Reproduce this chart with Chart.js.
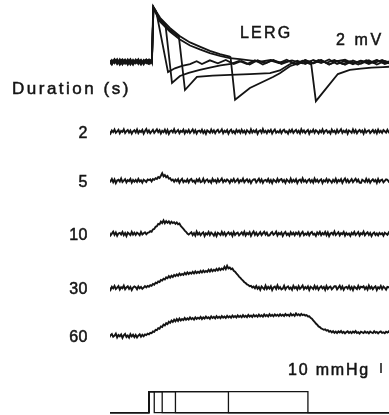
<!DOCTYPE html>
<html>
<head>
<meta charset="utf-8">
<script src="https://cdn.jsdelivr.net/npm/chart.js@4.4.1/dist/chart.umd.min.js"></script>
<style>
  html, body { margin: 0; padding: 0; background: #fff; overflow: hidden; }
  #wrap { position: relative; width: 389px; height: 415px; }
</style>
</head>
<body>
<div id="wrap"><canvas id="chart"></canvas></div>
<script>
// ---------------------------------------------------------------
//  DATA (time in s from stimulus onset)
// ---------------------------------------------------------------

const durations = [2, 5, 10, 30, 60];
const durationLabels = ['2', '5', '10', '30', '60'];

// pressure traces are sampled every 0.5 s from -15 s to 91 s
const sampleTimes = [];
for (let t = -15; t <= 91; t += 0.5) sampleTimes.push(t);

// pressure (mmHg above baseline), one value per sample time
const pressure2s = [
  0.5,-1.8,1.2,-0.4,2.1,-1.1,0.3,1.9,-1.6,0.8,-0.2,2.4,-1.3,0.6,1.7,-0.9,1.1,-2.0,0.4,1.5,
  -0.7,2.2,-1.4,0.9,-0.3,1.8,-1.9,0.7,2.6,-0.8,1.3,-1.5,0.2,1.9,-1.1,0.6,2.3,-0.5,1.4,-1.7,
  0.9,-0.4,2.0,-1.2,1.6,-2.1,0.5,1.2,-0.6,2.5,-1.0,0.3,1.8,-1.4,0.8,-0.1,2.1,-1.6,1.0,-0.7,
  1.7,-1.3,0.4,2.3,-0.9,1.5,-1.8,0.6,1.1,-0.5,2.0,-1.2,0.9,-2.0,1.4,0.2,-1.1,2.2,-0.6,1.3,
  -1.5,0.8,1.9,-0.8,0.3,2.4,-1.4,1.0,-0.3,1.6,-1.9,0.7,2.1,-1.0,0.5,-1.6,1.8,-0.4,1.2,-1.2,
  2.0,-0.7,0.9,-1.8,1.5,0.1,-1.3,2.3,-0.9,1.1,-0.5,1.7,-2.1,0.6,1.4,-1.0,2.6,-0.6,0.8,-1.5,
  1.3,-0.2,1.9,-1.7,0.7,2.2,-1.1,0.4,-0.8,1.6,-1.4,1.0,2.0,-0.6,0.3,-1.9,1.5,-0.3,2.1,-1.2,
  0.6,1.8,-1.0,0.9,-1.6,2.4,-0.5,1.2,-1.3,0.5,1.7,-2.0,0.8,-0.4,2.0,-1.1,1.4,0.2,-1.7,1.1,
  -0.6,2.3,-1.4,0.7,1.6,-0.9,0.4,-1.8,2.1,-0.3,1.0,-1.5,1.9,-0.8,0.6,2.5,-1.2,0.9,-0.5,1.6,
  -2.0,1.2,0.3,-1.1,2.2,-0.7,1.5,-1.6,0.5,1.8,-0.4,1.1,-1.9,2.0,-0.9,0.7,1.4,-1.3,0.2,1.7,
  -0.8,1.3,-1.5,2.1,-0.6,0.9,-1.2,1.6,0.4,-1.0,1.8,-0.5,1.1
];
const pressure5s = [
  0.9,-0.4,2.0,-1.2,1.6,-2.1,0.5,1.2,-0.6,2.5,-1.0,0.3,1.8,-1.4,0.8,-0.1,2.1,-1.6,1.0,-0.7,
  1.1,-0.9,2.0,-0.5,0.7,-1.6,1.3,0.2,-1.0,1.5,
  0.8,1.6,-0.4,1.9,1.2,2.8,2.0,3.9,3.1,5.2,7.8,4.6,6.0,3.8,4.9,2.4,2.9,0.6,1.4,-0.8,
  1.3,-0.2,1.9,-1.7,0.7,2.2,-1.1,0.4,-0.8,1.6,-1.4,1.0,2.0,-0.6,0.3,-1.9,1.5,-0.3,2.1,-1.2,
  -0.6,2.3,-1.4,0.7,1.6,-0.9,0.4,-1.8,2.1,-0.3,1.0,-1.5,1.9,-0.8,0.6,2.5,-1.2,0.9,-0.5,1.6,
  0.5,-1.8,1.2,-0.4,2.1,-1.1,0.3,1.9,-1.6,0.8,-0.2,2.4,-1.3,0.6,1.7,-0.9,1.1,-2.0,0.4,1.5,
  1.7,-1.3,0.4,2.3,-0.9,1.5,-1.8,0.6,1.1,-0.5,2.0,-1.2,0.9,-2.0,1.4,0.2,-1.1,2.2,-0.6,1.3,
  2.0,-0.7,0.9,-1.8,1.5,0.1,-1.3,2.3,-0.9,1.1,-0.5,1.7,-2.1,0.6,1.4,-1.0,2.6,-0.6,0.8,-1.5,
  0.6,1.8,-1.0,0.9,-1.6,2.4,-0.5,1.2,-1.3,0.5,1.7,-2.0,0.8,-0.4,2.0,-1.1,1.4,0.2,-1.7,1.1,
  -0.7,2.2,-1.4,0.9,-0.3,1.8,-1.9,0.7,2.6,-0.8,1.3,-1.5,0.2,1.9,-1.1,0.6,2.3,-0.5,1.4,-1.7,
  -2.0,1.2,0.3,-1.1,2.2,-0.7,1.5,-1.6,0.5,1.8,-0.4,1.1,-1.9,2.0,-0.9,0.7,1.4,-1.3,0.2,1.7,
  1.2,-0.7,0.9
];
const pressure10s = [
  1.7,-1.3,0.4,2.3,-0.9,1.5,-1.8,0.6,1.1,-0.5,2.0,-1.2,0.9,-2.0,1.4,0.2,-1.1,2.2,-0.6,1.3,
  -0.9,1.4,0.3,-1.2,2.0,-0.5,0.8,1.7,-0.3,1.2,
  1.5,2.8,2.2,4.6,5.1,7.2,7.8,10.1,9.6,12.4,11.0,13.6,10.8,12.9,11.2,12.6,10.4,12.2,10.9,11.8,
  10.2,11.6,9.8,10.4,8.0,6.6,5.2,3.4,2.2,0.4,-0.6,
  0.6,1.8,-1.0,0.9,-1.6,2.4,-0.5,1.2,-1.3,0.5,1.7,-2.0,0.8,-0.4,2.0,-1.1,1.4,0.2,-1.7,1.1,
  -2.0,1.2,0.3,-1.1,2.2,-0.7,1.5,-1.6,0.5,1.8,-0.4,1.1,-1.9,2.0,-0.9,0.7,1.4,-1.3,0.2,1.7,
  -0.7,2.2,-1.4,0.9,-0.3,1.8,-1.9,0.7,2.6,-0.8,1.3,-1.5,0.2,1.9,-1.1,0.6,2.3,-0.5,1.4,-1.7,
  -1.5,0.8,1.9,-0.8,0.3,2.4,-1.4,1.0,-0.3,1.6,-1.9,0.7,2.1,-1.0,0.5,-1.6,1.8,-0.4,1.2,-1.2,
  1.3,-0.2,1.9,-1.7,0.7,2.2,-1.1,0.4,-0.8,1.6,-1.4,1.0,2.0,-0.6,0.3,-1.9,1.5,-0.3,2.1,-1.2,
  0.9,-0.4,2.0,-1.2,1.6,-2.1,0.5,1.2,-0.6,2.5,-1.0,0.3,1.8,-1.4,0.8,-0.1,2.1,-1.6,1.0,-0.7,
  0.5,-1.8,1.2,-0.4,2.1,-1.1,0.3,1.9,-1.6,0.8,-0.2,2.4,-1.3,0.6,1.7,-0.9,1.1,-2.0,0.4,1.5,
  -1.0,0.6,-1.4,1.1,-0.3,0.8,-1.7,1.2,0.2,-0.8,1.5,-0.4
];
const pressure30s = [
  0.5,-1.8,1.2,-0.4,2.1,-1.1,0.3,1.9,-1.6,0.8,-0.2,2.4,-1.3,0.6,1.7,-0.9,1.1,-2.0,0.4,1.5,
  0.7,-1.3,1.6,-0.2,1.1,-0.8,0.4,1.9,
  0.6,2.1,1.3,2.9,2.2,4.0,3.3,5.4,4.8,6.6,6.0,8.1,7.4,9.3,8.5,10.6,9.8,11.9,10.4,12.3,
  11.0,13.1,11.8,13.5,12.2,14.4,12.8,14.0,13.1,15.2,13.6,15.7,14.0,15.4,14.3,16.2,14.6,16.6,15.0,16.3,
  15.2,17.1,15.5,17.4,15.8,17.0,16.1,18.2,16.4,18.6,16.8,18.3,17.2,19.1,17.5,19.6,18.0,19.4,18.4,21.3,
  19.0,22.2,19.6,20.4,18.8,19.5,17.2,16.4,14.6,13.2,11.4,10.2,8.6,7.4,5.8,5.0,3.6,3.0,1.8,2.2,
  0.6,1.4,-0.3,
  2.0,-0.7,0.9,-1.8,1.5,0.1,-1.3,2.3,-0.9,1.1,-0.5,1.7,-2.1,0.6,1.4,-1.0,2.6,-0.6,0.8,-1.5,
  -0.6,2.3,-1.4,0.7,1.6,-0.9,0.4,-1.8,2.1,-0.3,1.0,-1.5,1.9,-0.8,0.6,2.5,-1.2,0.9,-0.5,1.6,
  -2.0,1.2,0.3,-1.1,2.2,-0.7,1.5,-1.6,0.5,1.8,-0.4,1.1,-1.9,2.0,-0.9,0.7,1.4,-1.3,0.2,1.7,
  1.7,-1.3,0.4,2.3,-0.9,1.5,-1.8,0.6,1.1,-0.5,2.0,-1.2,0.9,-2.0,1.4,0.2,-1.1,2.2,-0.6,1.3,
  0.6,1.8,-1.0,0.9,-1.6,2.4,-0.5,1.2,-1.3,0.5,1.7,-2.0,0.8,-0.4,2.0,-1.1,1.4,0.2,-1.7,1.1,
  0.9,-0.6
];
const pressure60s = [
  -1.5,0.8,1.9,-0.8,0.3,2.4,-1.4,1.0,-0.3,1.6,-1.9,0.7,2.1,-1.0,0.5,-1.6,1.8,-0.4,1.2,-1.2,
  1.0,-1.4,0.5,1.8,-0.7,1.2,-0.2,1.6,
  0.9,2.3,1.6,3.2,2.8,4.6,4.1,6.2,5.8,7.9,7.3,9.6,9.0,11.4,10.6,12.8,11.9,14.2,13.1,15.4,
  14.0,16.3,14.6,16.9,15.1,17.4,15.5,17.0,15.9,18.1,16.2,17.6,16.5,18.5,16.8,18.0,16.4,18.7,17.1,18.2,
  17.3,19.0,16.9,18.6,17.5,19.4,17.8,18.8,17.2,19.6,18.0,19.1,17.6,19.8,18.2,19.3,17.9,20.0,18.4,19.5,
  18.1,20.2,18.6,19.7,18.3,20.4,18.8,19.9,18.5,20.6,19.0,20.1,18.7,20.8,19.2,20.3,18.9,21.0,19.3,20.5,
  19.0,21.2,19.5,20.6,19.2,21.4,19.7,20.8,19.4,21.6,19.9,21.0,19.6,21.8,20.0,21.1,19.7,21.5,20.2,21.3,
  19.9,21.7,20.3,21.2,20.0,22.0,20.5,21.4,20.1,22.3,20.6,21.6,20.2,22.6,20.8,21.8,20.4,22.1,20.9,21.5,
  20.4,20.9,19.6,19.8,18.2,17.4,15.6,14.2,12.4,11.3,9.6,8.9,7.6,7.0,6.2,6.6,5.4,
  5.8,4.3,5.1,3.6,4.8,3.2,4.4,2.9,4.6,3.5,5.0,3.1,4.2,2.6,3.9,4.7,3.0,4.1,2.8,4.5,
  3.4,4.9,3.0,3.8,2.5,4.3,3.6,2.9,4.6,3.2,4.0,2.7,4.4,3.5,2.9,4.8,3.3,4.1,2.6,3.9,
  4.5,3.1,3.7,2.8,4.2,3.4,4.6,3.0
];

// LERG (mV), [time, value] pairs, one trace per stimulus duration
const lerg2s = [
  [-15,0.08],[-14,-0.18],[-13,0.15],[-12,-0.08],[-11,0.2],[-10,-0.15],[-9,0.09],[-8,-0.2],[-7,0.15],[-6,-0.06],
  [-5,0.18],[-4,-0.15],[-3,0.12],[-2,-0.18],[-1,0.15],[0,-0.09],[0.8,0.12],[1.1,0.0],[1.6,3.9],[2.4,3.72],
  [2.8,3.55],[7.2,-0.72],[9.8,-0.45],[12.5,-0.28],[15.5,-0.15],[18,0.06],[20,-0.15],[23,0.12],[26,-0.1],[29,0.15],
  [32,-0.15],[35,0.08],[38,-0.18],[41,0.12],[44,-0.09],[47,0.15],[50,-0.15],[53,0.06],[56,-0.2],[59,0.12],
  [62,-0.09],[65,0.15],[68,-0.18],[71,0.08],[74,-0.2],[77,0.1],[80,-0.12],[83,0.13],[86,-0.18],[89,0.08],[92,-0.1]
];
const lerg5s = [
  [-15,-0.12],[-14,0.15],[-13,-0.09],[-12,0.2],[-11,-0.15],[-10,0.06],[-9,0.18],[-8,-0.14],[-7,0.1],[-6,-0.2],
  [-5,0.14],[-4,-0.08],[-3,0.16],[-2,-0.12],[-1,0.08],[0,0.18],[0.7,-0.08],[1.15,0.02],[1.65,3.95],[3,3.45],
  [4.2,3.08],[6.2,2.7],[8.7,-1.5],[11.7,-1.0],[15,-0.78],[19.2,-0.57],[23,-0.4],[27,-0.24],[31,-0.14],[34,0.08],
  [37,-0.15],[40,0.12],[43,-0.18],[46,0.09],[49,-0.08],[52,0.16],[55,-0.14],[58,0.09],[61,-0.16],[64,0.14],
  [67,-0.06],[70,0.15],[73,-0.15],[76,0.06],[79,-0.18],[82,0.12],[85,-0.08],[88,0.15],[91,-0.12]
];
const lerg10s = [
  [-15,0.15],[-14,-0.1],[-13,0.18],[-12,-0.16],[-11,0.06],[-10,0.2],[-9,-0.12],[-8,0.14],[-7,-0.18],[-6,0.09],
  [-5,-0.06],[-4,0.2],[-3,-0.15],[-2,0.1],[-1,-0.09],[0,0.14],[0.6,-0.06],[1.1,0.0],[1.7,3.9],[4.2,3.0],
  [7.9,2.3],[10.9,1.86],[11.3,1.8],[13.6,-2.0],[18.1,-1.07],[24,-0.98],[30.6,-0.92],[38,-0.86],[45.7,-0.8],[49.4,-0.6],
  [53,-0.18],[56,0.09],[59,-0.15],[62,0.14],[65,-0.08],[68,0.18],[71,-0.14],[74,0.08],[77,-0.16],[80,0.1],
  [83,-0.06],[86,0.15],[89,-0.14],[92,0.06]
];
const lerg30s = [
  [-15,-0.18],[-14,0.09],[-13,-0.06],[-12,0.15],[-11,-0.2],[-10,0.12],[-9,-0.08],[-8,0.18],[-7,-0.14],[-6,0.16],
  [-5,-0.1],[-4,0.08],[-3,-0.18],[-2,0.15],[-1,-0.05],[0,-0.15],[0.7,0.09],[1.1,0.0],[1.7,3.92],[4.2,3.16],
  [7.9,2.44],[11.7,1.84],[15.5,1.4],[19.2,1.1],[23,0.8],[26.8,0.57],[30.5,0.38],[30.8,0.34],[32.5,-2.7],[38.1,-1.86],
  [46.8,-1.07],[49.4,-0.8],[53.2,-0.3],[56,-0.12],[59,0.15],[62,-0.09],[65,0.12],[68,-0.18],[71,0.06],[74,0.16],
  [77,-0.1],[80,0.09],[83,-0.15],[86,0.12],[89,-0.08],[92,0.15]
];
const lerg60s = [
  [-15,0.1],[-14,-0.15],[-13,0.2],[-12,-0.03],[-11,0.12],[-10,-0.18],[-9,0.15],[-8,-0.05],[-7,0.2],[-6,-0.15],
  [-5,0.08],[-4,0.15],[-3,-0.12],[-2,0.06],[-1,0.18],[0,-0.03],[0.8,0.15],[1.1,0.0],[1.7,3.84],[4.2,2.88],
  [7.9,2.18],[11.7,1.6],[15.5,1.18],[19.2,0.9],[23,0.64],[26.8,0.43],[30.5,0.28],[34.3,0.2],[38,0.12],[42,0.02],
  [46,0.14],[50,-0.05],[54,0.12],[58,-0.09],[61.1,0.06],[63,-2.8],[71.3,-0.86],[75.8,-0.57],[80,-0.48],[84,-0.4],
  [88.3,-0.36],[92,-0.33]
];

// ---------------------------------------------------------------
//  LAYOUT
// ---------------------------------------------------------------

const Ink = '#141414';
const FontFamily = '"Liberation Sans", Arial, Helvetica, sans-serif';

// vertical panels, top to bottom; height in px, range in axis units
const panels = [
  { id: 'yLerg', min: -3.43, max: 4.43, height: 110 },
  { id: 'yP2', min: -25.3, max: 21.7, height: 47 },
  { id: 'yP5', min: -26, max: 24, height: 50 },
  { id: 'yP10', min: -26, max: 27, height: 53 },
  { id: 'yP30', min: -24, max: 28, height: 52 },
  { id: 'yP60', min: -26, max: 24, height: 50 },
  { id: 'yStim', min: -0.11, max: 2.414, height: 53 }
];
const pressureAxes = ['yP2', 'yP5', 'yP10', 'yP30', 'yP60'];

const toPoints = (values) => values.map((v, i) => ({ x: sampleTimes[i], y: v }));
const pairsToPoints = (pairs) => pairs.map(([x, y]) => ({ x, y }));
const line = (data, axis, width) => ({
  data, yAxisID: axis, borderColor: Ink, borderWidth: width,
  pointRadius: 0, tension: 0, fill: false
});

const datasets = [];
[lerg2s, lerg5s, lerg10s, lerg30s, lerg60s].forEach(trace => datasets.push(line(pairsToPoints(trace), 'yLerg', 1.8)));
[pressure2s, pressure5s, pressure10s, pressure30s, pressure60s].forEach((trace, i) => datasets.push(line(toPoints(trace), pressureAxes[i], 1.9)));
durations.forEach(d => datasets.push(line(pairsToPoints([[-16, 0], [0, 0], [0, 1], [d, 1], [d, 0], [95, 0]]), 'yStim', 1.3)));

const scales = {
  x: { type: 'linear', min: -14.7, max: 90.6, display: false }
};
panels.forEach((p, i) => {
  scales[p.id] = {
    type: 'linear', position: 'left', stack: 'traces', stackWeight: p.height,
    weight: panels.length - i, min: p.min, max: p.max, display: false
  };
});

const drawText = (ctx, text, x, y, size, spacing, align) => {
  ctx.font = `${size}px ${FontFamily}`;
  ctx.letterSpacing = spacing + 'px';
  ctx.textAlign = align || 'left';
  ctx.fillText(text, x, y);
  ctx.strokeText(text, x, y); // scanned print is a little heavier than the regular face
};

const labelPlugin = {
  id: 'labels',
  afterDraw(chart) {
    const { ctx } = chart;
    ctx.save();
    ctx.fillStyle = Ink;
    ctx.strokeStyle = Ink;
    ctx.lineWidth = 0.5;
    ctx.textBaseline = 'alphabetic';

    drawText(ctx, 'LERG', 240, 38, 16, 2.2);
    drawText(ctx, '2 mV', 336, 45, 16, 2.6);
    drawText(ctx, 'Duration (s)', 12, 94, 17, 2.5);

    pressureAxes.forEach((id, i) => {
      const y = chart.scales[id].getPixelForValue(0);
      drawText(ctx, durationLabels[i], 88, y + 5.8, 16, 0.5, 'right');
    });

    drawText(ctx, '10 mmHg', 288, 375, 16, 1.8);
    ctx.lineWidth = 1.5;
    ctx.beginPath();
    ctx.moveTo(381, 363);
    ctx.lineTo(381, 373);
    ctx.stroke();
    ctx.restore();
  }
};

new Chart(document.getElementById('chart'), {
  type: 'line',
  data: { datasets },
  options: {
    responsive: true,
    maintainAspectRatio: false,
    animation: false,
    devicePixelRatio: 1,
    layout: { padding: { left: 110, right: 0, top: 0, bottom: 0 } },
    plugins: { legend: { display: false }, tooltip: { enabled: false } },
    scales
  },
  plugins: [labelPlugin]
});
</script>
</body>
</html>
